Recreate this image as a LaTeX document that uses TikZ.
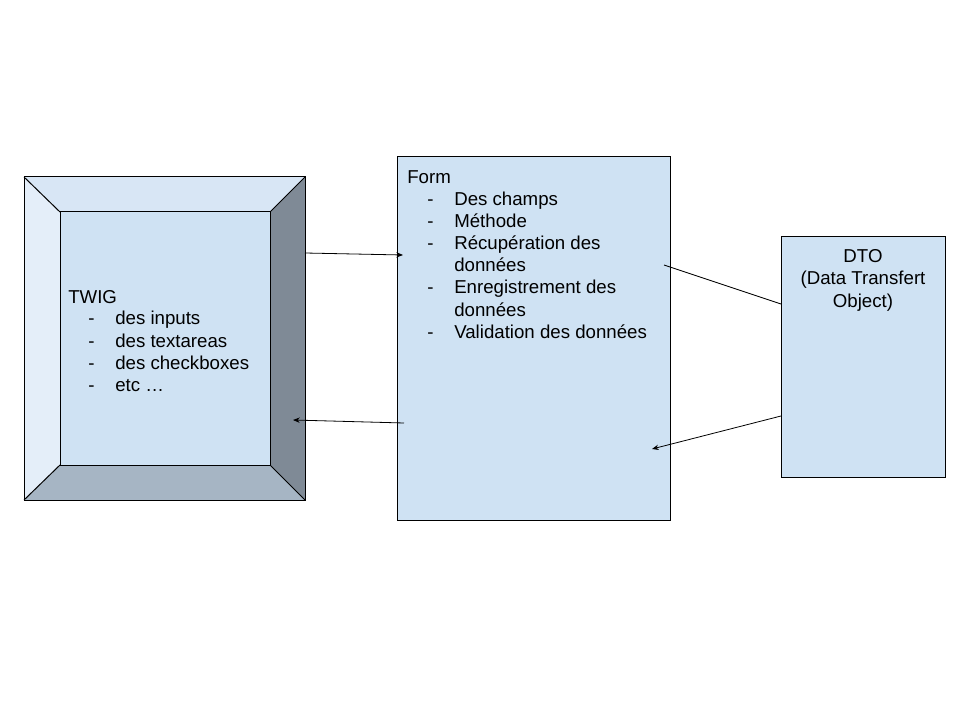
\documentclass[tikz,border=0pt]{standalone}
\usepackage{fontspec}
\setmainfont{Liberation Sans}
\usetikzlibrary{arrows.meta}
\definecolor{boxblue}{HTML}{CFE2F3}
\definecolor{topface}{HTML}{D8E6F5}
\definecolor{leftface}{HTML}{E4EEF9}
\definecolor{rightface}{HTML}{7F8A96}
\definecolor{bottomface}{HTML}{A6B5C4}
\definecolor{txt}{HTML}{000000}
\tikzset{
  px/.style={x=0.75pt,y=-0.75pt},
  boxline/.style={draw=black,line width=0.75pt},
  lbl/.style={anchor=base west,inner sep=0pt,text=txt,font=\fontsize{14}{16}\selectfont},
  clbl/.style={anchor=base,inner sep=0pt,text=txt,font=\fontsize{14}{16}\selectfont},
  conn/.style={draw=black,line width=0.6pt},
  arr/.style={conn,-{Stealth[length=5pt,width=4pt]}}
}
\begin{document}
\begin{tikzpicture}[px]
\useasboundingbox (0,0) rectangle (960,720);
% TWIG bevel box
\fill[topface] (24,177) -- (305,177) -- (270,212) -- (60,212) -- cycle;
\fill[leftface] (24,177) -- (60,212) -- (60,465) -- (24,500) -- cycle;
\fill[rightface] (305,177) -- (305,500) -- (270,465) -- (270,212) -- cycle;
\fill[bottomface] (24,500) -- (60,465) -- (270,465) -- (305,500) -- cycle;
\fill[boxblue] (60,212) rectangle (270,465);
\draw[line width=0.75pt] (24,177) rectangle (305,500);
\draw[line width=0.75pt] (60,212) rectangle (270,465);
\draw[line width=0.75pt] (24,177) -- (60,212) (305,177) -- (270,212) (24,500) -- (60,465) (305,500) -- (270,465);
\node[inner sep=0pt,minimum width=210.75pt,minimum height=242.25pt,anchor=north west] (twig) at (24,177) {};
% Form box
\node[boxline,fill=boxblue,inner sep=0pt,anchor=north west,minimum width=204.75pt,minimum height=273pt] (form) at (397,156) {};
% DTO box
\node[boxline,fill=boxblue,inner sep=0pt,anchor=north west,minimum width=123pt,minimum height=180.75pt] (dto) at (781,236) {};
% Form text
\node[lbl] (f0) at (407,184) {Form};
\foreach \t [count=\i] in {Des champs,Méthode,Récupération des,données,Enregistrement des,données,Validation des données}{
  \node[lbl] (ft\i) at (454,184+22*\i) {\t};
}
\foreach \i in {1,2,3,5,7}{
  \node[lbl] (fd\i) at (427,184+22*\i) {-};
}
% TWIG text
\node[lbl] (t0) at (68,303) {TWIG};
\foreach \t [count=\i] in {des inputs,des textareas,des checkboxes,etc …}{
  \node[lbl] (tt\i) at (115,303+22*\i) {\t};
  \node[lbl] (td\i) at (88,303+22*\i) {-};
}
% DTO text
\node[clbl] (d1) at (863,263) {DTO};
\node[clbl] (d2) at (863,285) {(Data Transfert};
\node[clbl] (d3) at (863,307) {Object)};
% connectors
\coordinate (a1s) at (305,253);
\coordinate (a1e) at (403,255);
\coordinate (a2s) at (404,423);
\coordinate (a2e) at (293,420);
\coordinate (l1s) at (664,265);
\coordinate (l1e) at (781,304);
\coordinate (a3s) at (781,416);
\coordinate (a3e) at (652,449);
\draw[arr] (a1s) -- (a1e);
\draw[arr] (a2s) -- (a2e);
\draw[conn] (l1s) -- (l1e);
\draw[arr] (a3s) -- (a3e);
\end{tikzpicture}
\end{document}
